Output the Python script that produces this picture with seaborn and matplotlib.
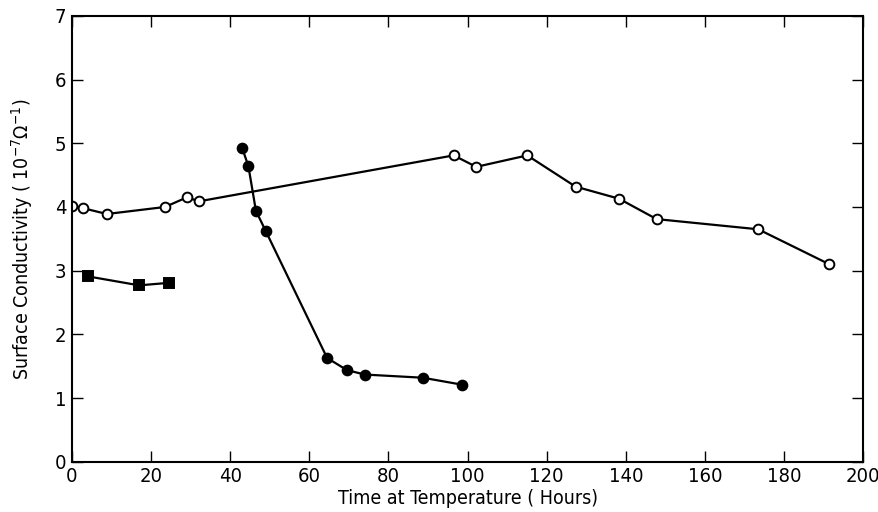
import matplotlib
matplotlib.use("Agg")
import matplotlib.pyplot as plt
import seaborn as sns

# === Dados ===
open_x = [0, 2.9, 8.8, 23.5, 29.0, 32.2, 96.5, 102.2, 115.1, 127.3, 138.3, 147.8, 173.5, 191.5]
open_y = [4.01, 3.98, 3.89, 4.00, 4.15, 4.09, 4.81, 4.63, 4.81, 4.32, 4.13, 3.81, 3.65, 3.10]

filled_x = [43.0, 44.6, 46.5, 49.0, 64.5, 69.5, 74.0, 88.7, 98.7]
filled_y = [4.93, 4.64, 3.94, 3.62, 1.63, 1.44, 1.37, 1.32, 1.21]

square_x = [4.1, 17.0, 24.6]
square_y = [2.91, 2.77, 2.81]

xticks = [0, 20, 40, 60, 80, 100, 120, 140, 160, 180, 200]
yticks = [0, 1, 2, 3, 4, 5, 6, 7]

sns.set_style("ticks")
plt.rcParams['font.family'] = ['DejaVu Sans']
plt.rcParams['font.stretch'] = 'condensed'
for k in ['text.color', 'axes.labelcolor', 'xtick.color', 'ytick.color', 'axes.edgecolor']:
    plt.rcParams[k] = 'black'

fig = plt.figure(figsize=(8.79, 5.12), dpi=100)
ax = fig.add_axes([0.0819, 0.098, 0.9, 0.871])

line_kws = dict(color='black', linewidth=1.6, markersize=7, markeredgewidth=1.4,
                markeredgecolor='black', sort=False, ax=ax)

sns.lineplot(x=open_x, y=open_y, marker='o', markerfacecolor='white', **line_kws)
sns.lineplot(x=filled_x, y=filled_y, marker='o', markerfacecolor='black', **line_kws)
sns.lineplot(x=square_x, y=square_y, marker='s', markerfacecolor='black', **line_kws)

ax.set_xlim(0, 200)
ax.set_ylim(0, 7)
ax.set_xticks(xticks)
ax.set_yticks(yticks)
ax.tick_params(direction='in', top=True, right=True, length=8, width=1.0,
               labelsize=14.5, pad=4)
ax.tick_params(labeltop=False, labelright=False)
for s in ax.spines.values():
    s.set_linewidth(1.5)

ax.set_xlabel("Time at Temperature ( Hours)", fontsize=14, labelpad=2)
ax.set_ylabel(r"Surface Conductivity ( 10$^{-7}$$\Omega^{-1}$)", fontsize=14, labelpad=14)

plt.savefig("out.png", dpi=100)
